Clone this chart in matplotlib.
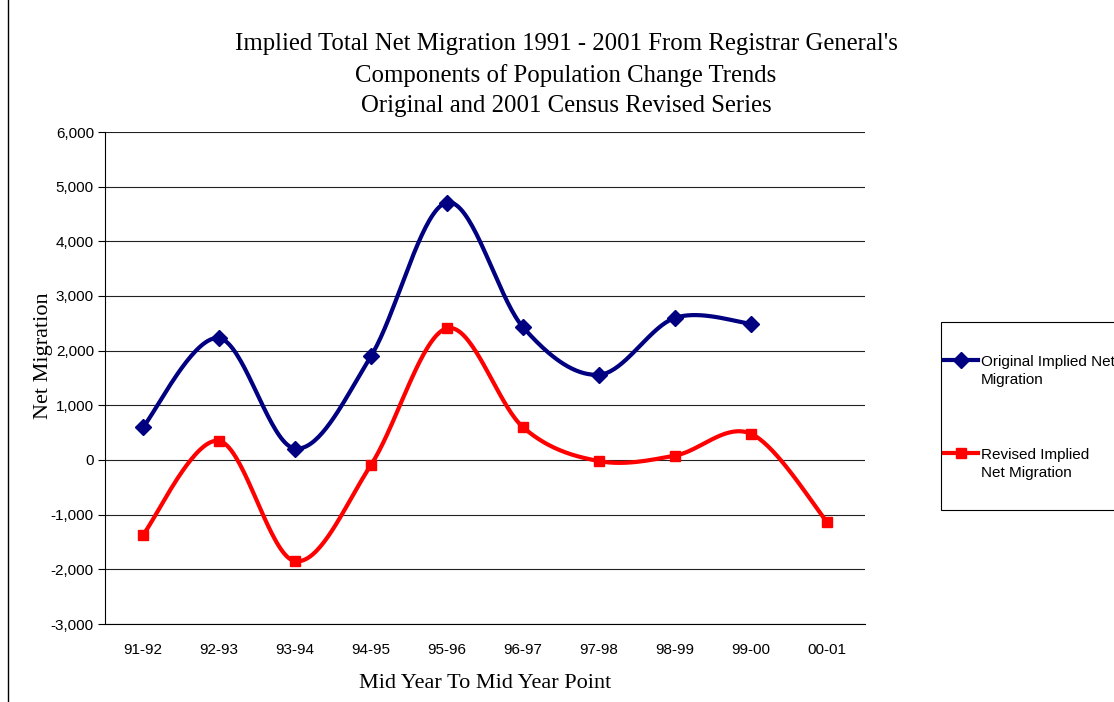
import numpy as np
import matplotlib
matplotlib.use("Agg")
import matplotlib.pyplot as plt
from matplotlib.lines import Line2D
from matplotlib.patches import Rectangle

categories = ["91-92", "92-93", "93-94", "94-95", "95-96", "96-97", "97-98", "98-99", "99-00", "00-01"]
original = [600, 2230, 210, 1900, 4710, 2430, 1560, 2600, 2490]
revised = [-1370, 350, -1850, -90, 2410, 600, -20, 80, 480, -1130]
yticks = [-3000, -2000, -1000, 0, 1000, 2000, 3000, 4000, 5000, 6000]

title = ("Implied Total Net Migration 1991 - 2001 From Registrar General's\n"
         "Components of Population Change Trends\n"
         "Original and 2001 Census Revised Series")

def smooth(xs, ys, n=40):
    pts = np.column_stack([xs, ys]).astype(float)
    out = []
    m = len(pts)
    for i in range(m - 1):
        p0 = pts[i - 1] if i > 0 else pts[i]
        p1 = pts[i]
        p2 = pts[i + 1]
        p3 = pts[i + 2] if i + 2 < m else pts[i + 1]
        c1 = p1 + (p2 - p0) / 6.0
        c2 = p2 - (p3 - p1) / 6.0
        t = np.linspace(0, 1, n)[:, None]
        seg = ((1 - t) ** 3) * p1 + 3 * ((1 - t) ** 2) * t * c1 + 3 * (1 - t) * t ** 2 * c2 + t ** 3 * p2
        out.append(seg if i == 0 else seg[1:])
    arr = np.vstack(out)
    return arr[:, 0], arr[:, 1]

W, H = 1114, 702
fig = plt.figure(figsize=(W / 100, H / 100), dpi=100)
ax = fig.add_axes([105 / W, 1 - 624 / H, 760 / W, 492 / H])

navy = "#000080"
red = "#ff0000"
LW = 3.0

xo = np.arange(len(original))
xr = np.arange(len(revised))
sx, sy = smooth(xo, original)
ax.plot(sx, sy, color=navy, lw=LW, solid_capstyle="round", zorder=3)
ax.plot(xo, original, linestyle="none", marker="D", color=navy, markersize=8.5, zorder=4)
sx, sy = smooth(xr, revised)
ax.plot(sx, sy, color=red, lw=LW, solid_capstyle="round", zorder=3)
ax.plot(xr, revised, linestyle="none", marker="s", color=red, markersize=6.5, zorder=4)

ax.set_xlim(-0.5, len(categories) - 0.5)
ax.set_ylim(-3000, 6000)
ax.set_yticks(yticks)
ax.set_yticklabels([f"{v:,}" for v in yticks], fontfamily="Liberation Sans", fontsize=11)
ax.set_xticks(np.arange(len(categories)))
ax.set_xticklabels(categories, fontfamily="Liberation Sans", fontsize=11)
ax.tick_params(axis="x", length=0, pad=14)
ax.tick_params(axis="y", length=5, width=0.8, direction="out", pad=3)
for v in yticks:
    ax.axhline(v, color="#222222", lw=0.8, zorder=1)
ax.spines["top"].set_visible(False)
ax.spines["right"].set_visible(False)
ax.spines["left"].set_linewidth(0.8)
ax.spines["bottom"].set_linewidth(0.8)
ax.set_facecolor("white")

ax.set_ylabel("Net Migration", fontfamily="Liberation Serif", fontsize=16)
ax.yaxis.set_label_coords(-0.068, 0.545)
ax.set_xlabel("Mid Year To Mid Year Point", fontfamily="Liberation Serif", fontsize=16, labelpad=12)

fig.text(566 / W, 1 - 75 / H, title, ha="center", va="center", fontfamily="Liberation Serif",
         fontsize=17.8, linespacing=1.5)

# left border of chart area
fig.add_artist(Line2D([8 / W, 8 / W], [0, 1], color="black", lw=1.0, transform=fig.transFigure))

# legend box
fig.add_artist(Rectangle((941 / W, 1 - 510 / H), (1120 - 941) / W, (510 - 322) / H,
                         transform=fig.transFigure, facecolor="white", edgecolor="black", lw=0.8))
fig.add_artist(Line2D([944 / W, 961 / W, 978 / W], [1 - 360 / H] * 3, color=navy, lw=LW,
                      marker="D", markersize=8, markevery=[1], transform=fig.transFigure))
fig.add_artist(Line2D([944 / W, 961 / W, 978 / W], [1 - 453 / H] * 3, color=red, lw=LW,
                      marker="s", markersize=6.5, markevery=[1], transform=fig.transFigure))
fig.text(981 / W, 1 - 371 / H, "Original Implied Net\nMigration", ha="left", va="center",
         fontfamily="Liberation Sans", fontsize=11, linespacing=1.3)
fig.text(981 / W, 1 - 464 / H, "Revised Implied\nNet Migration", ha="left", va="center",
         fontfamily="Liberation Sans", fontsize=11, linespacing=1.3)

fig.savefig("out.png", dpi=100, facecolor="white")
